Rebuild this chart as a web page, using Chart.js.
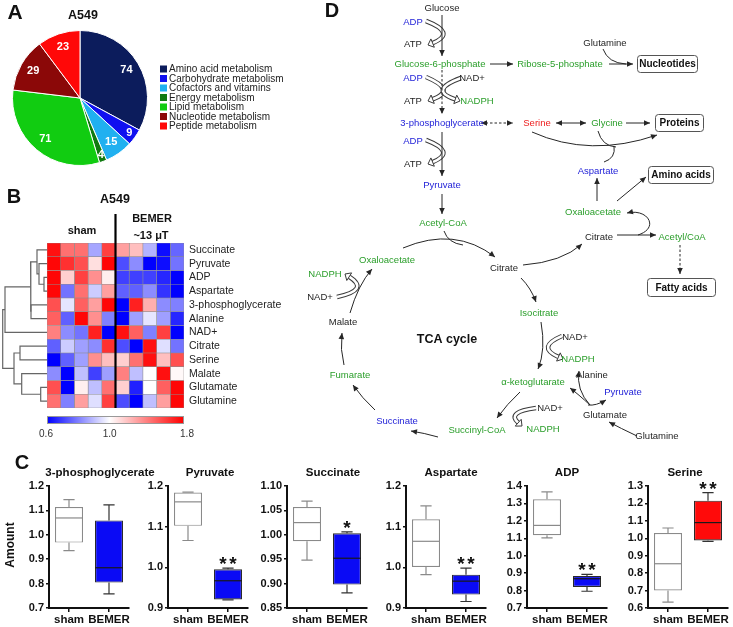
<!DOCTYPE html>
<html><head><meta charset="utf-8">
<script src="https://cdn.jsdelivr.net/npm/chart.js@4.4.1/dist/chart.umd.min.js"></script>
<style>
html,body{margin:0;padding:0;background:#fff;}
#page{position:relative;width:733px;height:627px;overflow:hidden;background:#fff;}
</style></head><body><div id="page"></div>
<script>
// ===================== DATA =====================
// Panel A
const pieLabels = ['Amino acid metabolism','Carbohydrate metabolism','Cofactors and vitamins','Energy metabolism','Lipid metabolism','Nucleotide metabolism','Peptide metabolism'];
const pieValues = [74, 9, 15, 4, 71, 29, 23];
const pieColors = ['#0c1c5c','#1010f0','#20b0f0','#107a10','#11cc11','#8b0808','#ff0808'];

// Panel B
const heatRows = ['Succinate','Pyruvate','ADP','Aspartate','3-phosphoglycerate','Alanine','NAD+','Citrate','Serine','Malate','Glutamate','Glutamine'];
const heatSham = [
  [1.75,1.45,1.45,0.86,1.6],
  [1.78,1.65,1.55,1.1,1.78],
  [1.78,1.15,1.6,1.35,1.05],
  [1.78,0.78,1.45,0.92,1.3],
  [1.55,0.96,1.5,1.3,1.78],
  [1.5,0.75,1.78,1.35,0.8],
  [1.4,0.82,0.78,1.7,0.6],
  [0.75,0.92,0.85,0.82,1.65],
  [0.6,0.75,0.85,1.35,1.2],
  [0.82,0.6,0.9,0.7,0.85],
  [1.55,0.6,1.05,0.9,1.45],
  [1.45,0.8,1.3,0.95,1.6]
];
const heatBemer = [
  [1.3,1.2,0.88,0.62,0.76],
  [0.72,0.82,0.6,0.62,0.78],
  [0.7,0.7,0.7,0.66,0.6],
  [0.75,0.75,0.82,0.68,0.6],
  [0.6,1.7,1.25,0.82,0.8],
  [0.6,0.85,0.96,0.85,0.66],
  [1.75,1.5,0.8,1.6,0.6],
  [0.72,0.6,1.75,0.95,0.78],
  [1.15,1.45,1.75,1.2,1.55],
  [1.4,0.9,1.0,1.75,1.02],
  [1.15,0.65,1.0,1.5,1.78],
  [0.72,0.6,0.9,1.3,1.78]
];
const colorbarTicks = [0.6, 1.0, 1.8];
// dendrogram linkage: [childA, childB, height]; leaves 0..11, internal nodes 12+
const dendroLinks = [
  [2,3,3],[1,12,8],[0,13,10],[4,5,16],[14,15,16.4],[16,6,42],
  [7,8,27],[10,11,6.3],[9,19,25.3],[18,20,33],[17,21,44.3]
];

// Panel C : [min, q1, median, q3, max]
const boxTitles = ['3-phosphoglycerate','Pyruvate','Succinate','Aspartate','ADP','Serine'];
const boxGroups = ['sham','BEMER'];
const shamStats = [
  [0.935,0.968,1.069,1.114,1.144],
  [1.066,1.102,1.161,1.184,1.185],
  [0.948,0.987,1.025,1.057,1.069],
  [0.982,1.001,1.064,1.118,1.151],
  [1.102,1.117,1.174,1.324,1.366],
  [0.634,0.701,0.854,1.030,1.059]
];
const bemerStats = [
  [0.758,0.804,0.865,1.059,1.123],
  [0.920,0.921,0.967,0.995,0.998],
  [0.881,0.898,0.952,1.003,1.006],
  [0.916,0.933,0.966,0.982,0.998],
  [0.796,0.821,0.868,0.884,0.893],
  [0.982,0.988,1.090,1.216,1.262]
];
const axisMin = [0.7,0.9,0.85,0.9,0.7,0.6];
const axisMax = [1.2,1.2,1.10,1.2,1.4,1.3];
const axisStep = [0.1,0.1,0.05,0.1,0.1,0.1];
const significance = ['','**','*','**','**','**'];

// ===================== SETUP =====================
const FONT = "'Liberation Sans', Arial, Helvetica, sans-serif";
Chart.defaults.font.family = FONT;
Chart.defaults.color = '#222';
Chart.defaults.animation = false;
const page = document.getElementById('page');
function mkCanvas(left, top, w, h){
  const cv = document.createElement('canvas');
  cv.width = w; cv.height = h;
  cv.style.cssText = `position:absolute;left:${left}px;top:${top}px;width:${w}px;height:${h}px`;
  page.appendChild(cv);
  return cv;
}
function txt(ctx, s, x, y, font, color, align='center', base='middle', rot=0){
  ctx.save(); ctx.font = font; ctx.fillStyle = color; ctx.textAlign = align; ctx.textBaseline = base;
  if (rot){ ctx.translate(x,y); ctx.rotate(rot); ctx.fillText(s,0,0); } else ctx.fillText(s,x,y);
  ctx.restore();
}
const noPlug = {legend:{display:false}, tooltip:{enabled:false}};

// ===================== PANEL A =====================
new Chart(mkCanvas(0,0,300,185), {
  type:'pie',
  data:{labels:pieLabels, datasets:[{data:pieValues, backgroundColor:pieColors, borderColor:'#ffffff', borderWidth:1}]},
  options:{responsive:false, layout:{padding:{left:12,top:30,right:152,bottom:19}}, plugins:noPlug},
  plugins:[{id:'pieA', afterDraw(chart){
    const ctx = chart.ctx, meta = chart.getDatasetMeta(0);
    const total = pieValues.reduce((a,b)=>a+b,0);
    meta.data.forEach((arc,i)=>{
      const p = arc.getProps(['x','y','startAngle','endAngle','outerRadius'], true);
      const mid = (p.startAngle+p.endAngle)/2;
      const f = pieValues[i]/total < 0.05 ? 0.9 : 0.8;
      txt(ctx, String(pieValues[i]), p.x+Math.cos(mid)*p.outerRadius*f, p.y+Math.sin(mid)*p.outerRadius*f, `bold 11px ${FONT}`, '#fff');
    });
    pieLabels.forEach((l,i)=>{
      const y = 69 + i*9.5;
      ctx.fillStyle = pieColors[i]; ctx.fillRect(160, y-3.5, 7, 7);
      txt(ctx, l, 169, y+0.5, `10px ${FONT}`, '#222', 'left');
    });
    txt(ctx,'A549',83,16,`bold 12.5px ${FONT}`,'#111');
    txt(ctx,'A',15,13,`bold 21px ${FONT}`,'#111');
  }}]
});

// ===================== PANEL B =====================
const cbMid = 0.457;
function heatColor(v){
  if (v < 1){ const f = Math.max(0,(v-0.6)/0.4); const c = Math.round(255*f); return `rgb(${c},${c},255)`; }
  const f = Math.min(1,(v-1)/0.8); const c = Math.round(255*(1-f)); return `rgb(255,${c},${c})`;
}
function cbPos(v){ return v < 1 ? (v-0.6)/0.4*cbMid : cbMid + (v-1)/0.8*(1-cbMid); }
const nCols = heatSham[0].length + heatBemer[0].length;
const heatDatasets = [];
for (let c = 0; c < nCols; c++){
  heatDatasets.push({
    data: heatRows.map(()=>[c, c+1]),
    backgroundColor: heatRows.map((_,r)=> heatColor(c < 5 ? heatSham[r][c] : heatBemer[r][c-5])),
    borderColor:'#8c8c8c', borderWidth:0.6, borderSkipped:false,
    barPercentage:1, categoryPercentage:1, grouped:false
  });
}
new Chart(mkCanvas(0,185,300,255), {
  type:'bar',
  data:{labels:heatRows, datasets:heatDatasets},
  options:{responsive:false, indexAxis:'y', layout:{padding:{left:47,top:58,right:0,bottom:32}}, plugins:noPlug,
    scales:{
      x:{type:'linear', min:0, max:nCols, display:false},
      y:{type:'category', position:'right', grid:{display:false, drawTicks:false}, border:{display:false},
         ticks:{font:{size:10.5}, color:'#222', padding:5, autoSkip:false}, afterFit(s){ s.width = 116; }}
    }},
  plugins:[{id:'heatB', afterDraw(chart){
    const ctx = chart.ctx, xs = chart.scales.x, ca = chart.chartArea;
    const xm = xs.getPixelForValue(heatSham[0].length);
    ctx.save(); ctx.strokeStyle='#000'; ctx.lineWidth=2.2;
    ctx.beginPath(); ctx.moveTo(xm, 29); ctx.lineTo(xm, ca.bottom); ctx.stroke(); ctx.restore();
    txt(ctx,'B',14,12,`bold 20px ${FONT}`,'#111');
    txt(ctx,'A549',115,15,`bold 12.5px ${FONT}`,'#111');
    txt(ctx,'sham',82,46,`bold 11px ${FONT}`,'#111');
    txt(ctx,'BEMER',152,34,`bold 11px ${FONT}`,'#111');
    txt(ctx,'~13 \u03BCT',151,51,`bold 11px ${FONT}`,'#111');
    // colorbar
    const x0 = xs.getPixelForValue(0), x1 = xs.getPixelForValue(nCols), y0 = ca.bottom + 8, h = 8;
    const g = ctx.createLinearGradient(x0,0,x1,0);
    colorbarTicks.forEach(v=> g.addColorStop(cbPos(v), heatColor(v)));
    ctx.fillStyle = g; ctx.fillRect(x0, y0, x1-x0, h);
    ctx.strokeStyle = '#999'; ctx.lineWidth = 1; ctx.strokeRect(x0+0.5, y0+0.5, x1-x0-1, h-1);
    colorbarTicks.forEach((v,i)=>{
      const x = x0 + cbPos(v)*(x1-x0) + (i===0?-1:(i===colorbarTicks.length-1?3:0));
      txt(ctx, v.toFixed(1), x, y0+h+10, `10px ${FONT}`, '#333');
    });
  }}]
});

// dendrogram
(function(){
  const pos = heatRows.map((_,i)=>({y:i, h:0}));
  const dsets = [];
  dendroLinks.forEach(([a,b,h])=>{
    const A = pos[a], B = pos[b];
    dsets.push({data:[{x:A.h,y:A.y},{x:h,y:A.y},{x:h,y:B.y},{x:B.h,y:B.y}], showLine:true, borderColor:'#666', borderWidth:1.2, pointRadius:0, tension:0, clip:false});
    pos.push({y:(A.y+B.y)/2, h:h});
  });
  new Chart(mkCanvas(0,185,47,255), {
    type:'scatter', data:{datasets:dsets},
    options:{responsive:false, layout:{padding:{left:0,right:0,top:58,bottom:32}}, plugins:noPlug,
      scales:{x:{type:'linear', min:0, max:47, reverse:true, display:false},
              y:{type:'linear', min:-0.5, max:heatRows.length-0.5, reverse:true, display:false}}}
  });
})();

// ===================== PANEL C =====================
const yAxisX = [49,168,287,406,527,648];
const titleShift = [11,2,6,5,0,-3];
boxTitles.forEach((title,i)=>{
  const yw = i===0 ? 49 : 40;
  const left = yAxisX[i]-yw;
  const extra = i===5 ? 0 : 24;
  const dec = axisStep[i] < 0.1 ? 2 : 1;
  const fill = i===5 ? '#ff0a0a' : '#0a0af5';
  new Chart(mkCanvas(left,450,yw+84+extra,177), {
    type:'bar',
    data:{labels:boxGroups, datasets:[{
      data:[[shamStats[i][1],shamStats[i][3]],[bemerStats[i][1],bemerStats[i][3]]],
      backgroundColor:['#ffffff',fill], borderColor:['#8a8a8a','#2a2a2a'], borderWidth:1.2, borderSkipped:false,
      barPercentage:0.7, categoryPercentage:1
    }]},
    options:{responsive:false, layout:{padding:{left:0,right:4+extra,top:36,bottom:0}}, plugins:noPlug,
      scales:{
        x:{grid:{offset:false, drawOnChartArea:false, drawTicks:true, tickLength:4, color:'#111', lineWidth:1.5},
           border:{display:true, color:'#111', width:2},
           ticks:{font:{size:11.5, weight:'bold'}, color:'#111', padding:1, maxRotation:0, minRotation:0, autoSkip:false},
           afterFit(s){ s.height = 19; }},
        y:{min:axisMin[i], max:axisMax[i],
           ticks:{stepSize:axisStep[i], callback:v=>Number(v).toFixed(dec), font:{size:11, weight:'bold'}, color:'#111', padding:2},
           grid:{drawOnChartArea:false, drawTicks:true, tickLength:3, color:'#111', lineWidth:1.5},
           border:{display:true, color:'#111', width:2}, afterFit(s){ s.width = yw; }}
      }},
    plugins:[{id:'boxC'+i, afterDatasetsDraw(chart){
      const ctx = chart.ctx, ys = chart.scales.y, ca = chart.chartArea;
      const meta = chart.getDatasetMeta(0);
      [shamStats[i], bemerStats[i]].forEach((s,j)=>{
        const el = meta.data[j]; const x = el.x, w = el.width;
        const col = j===0 ? '#8a8a8a' : '#333';
        ctx.save(); ctx.strokeStyle = col; ctx.lineWidth = 1.2;
        ctx.beginPath();
        ctx.moveTo(x, ys.getPixelForValue(s[3])); ctx.lineTo(x, ys.getPixelForValue(s[4]));
        ctx.moveTo(x, ys.getPixelForValue(s[1])); ctx.lineTo(x, ys.getPixelForValue(s[0]));
        ctx.moveTo(x-w*0.2, ys.getPixelForValue(s[4])); ctx.lineTo(x+w*0.2, ys.getPixelForValue(s[4]));
        ctx.moveTo(x-w*0.2, ys.getPixelForValue(s[0])); ctx.lineTo(x+w*0.2, ys.getPixelForValue(s[0]));
        ctx.stroke();
        ctx.strokeStyle = j===0 ? '#8a8a8a' : '#1a1a1a';
        ctx.beginPath(); ctx.moveTo(x-w/2, ys.getPixelForValue(s[2])); ctx.lineTo(x+w/2, ys.getPixelForValue(s[2])); ctx.stroke();
        ctx.restore();
      });
      const sig = significance[i];
      if (sig){
        const el = meta.data[1]; const yb = ys.getPixelForValue(bemerStats[i][4]) + 2;
        const n = sig.length;
        for (let k=0;k<n;k++) txt(ctx,'*', el.x + (k-(n-1)/2)*10, yb, `bold 19px ${FONT}`, '#111', 'center', 'alphabetic');
      }
      txt(ctx, title, (ca.left+ca.right)/2 + titleShift[i], 23, `bold 11.5px ${FONT}`, '#111');
      if (i===0){
        txt(ctx,'C',22,13,`bold 20px ${FONT}`,'#111');
        txt(ctx,'Amount',11,95,`bold 12px ${FONT}`,'#111','center','middle',-Math.PI/2);
      }
    }}]
  });
});

// ===================== PANEL D (pathway diagram) =====================
const diagram = {
  nodes: [
    ['Glucose',442,8,'k'],['ADP',413,22,'b'],['ATP',413,44,'k'],
    ['Glucose-6-phosphate',440,64,'g'],['Ribose-5-phosphate',560,64,'g'],['Glutamine',605,43,'k'],
    ['ADP',413,78,'b'],['NAD+',472,78,'k'],['ATP',413,101,'k'],['NADPH',477,101,'g'],
    ['3-phosphoglycerate',442,123,'b'],['Serine',537,123,'r'],['Glycine',607,123,'g'],
    ['Aspartate',598,171,'b'],['ADP',413,141,'b'],['ATP',413,164,'k'],['Pyruvate',442,185,'b'],
    ['Oxaloacetate',593,212,'g'],['Acetyl-CoA',443,223,'g'],['Citrate',599,237,'k'],['Acetyl/CoA',682,237,'g'],
    ['Oxaloacetate',387,260,'g'],['Citrate',504,268,'k'],['NADPH',325,274,'g'],['NAD+',320,297,'k'],
    ['Isocitrate',539,313,'g'],['Malate',343,322,'k'],['NAD+',575,337,'k'],['NADPH',578,359,'g'],
    ['Fumarate',350,375,'g'],['Alanine',592,375,'k'],['\u03B1-ketoglutarate',533,382,'g'],['Pyruvate',623,392,'b'],
    ['NAD+',550,408,'k'],['Glutamate',605,415,'k'],['Succinate',397,421,'b'],['Succinyl-CoA',477,430,'g'],
    ['NADPH',543,429,'g'],['Glutamine',657,436,'k']
  ],
  boxes: [['Nucleotides',637,55,697,72],['Proteins',655,114,703,131],['Amino acids',648,166,713,183],['Fatty acids',647,278,715,296]],
  lines: [
    [442,15,442,56,'e',0],[490,64,513,64,'e',0],[609,64,633,64,'e',0],[442,70,442,114,'e',1],
    [481,123,513,123,'b',1],[556,123,586,123,'b',0],[626,123,650,123,'e',0],[442,132,442,176,'e',0],
    [442,194,442,214,'e',0],[617,235,656,235,'e',0],[597,201,597,178,'e',0],[617,201,646,177,'e',0],
    [680,245,680,274,'e',1]
  ],
  curves: [
    [603,49,608,63,626,64,''],[532,132,590,158,657,135,'e'],[598,131,602,146,616,147,''],
    [604,162,616,158,614,146,''],[444,231,448,243,463,245,''],[403,248,455,226,495,257,'e'],
    [523,265,562,262,582,244,'e'],[521,278,531,288,536,302,'e'],[541,322,546,350,538,369,'e'],
    [520,392,507,404,497,418,'e'],[438,437,424,433,411,431,'e'],[375,410,362,398,353,385,'e'],
    [344,365,340,350,342,333,'e'],[350,313,358,285,372,269,'e'],[637,436,620,428,609,422,'e'],
    [590,405,578,394,570,388,'e'],[590,405,576,390,579,371,'e'],[588,405,596,406,606,400,'e']
  ],
  beziers: [[638,235,660,228,648,208,627,213]],
  hollows: [
    [426,21,457,33,428,45],[426,77,457,90,428,101],[461,78,428,90,460,101],[426,140,457,152,428,164],
    [337,297,370,290,345,274],[562,336,536,347,563,359],[536,408,506,412,522,426]
  ]
};
const dColors = {k:'#1e1e1e', g:'#2a9e2a', b:'#2424d8', r:'#ee2020'};
new Chart(mkCanvas(300,0,433,450), {
  type:'scatter', data:{datasets:[]},
  options:{responsive:false, layout:{padding:0}, plugins:noPlug,
    scales:{x:{type:'linear', min:300, max:733, display:false}, y:{type:'linear', min:0, max:450, reverse:true, display:false}}},
  plugins:[{id:'pathD', afterDraw(chart){
    const ctx = chart.ctx, xs = chart.scales.x, ys = chart.scales.y;
    const P = (x,y)=>[xs.getPixelForValue(x), ys.getPixelForValue(y)];
    const dark = '#262626';
    function head(tip, from, len=6, hw=2.8){
      const dx=tip[0]-from[0], dy=tip[1]-from[1], L=Math.hypot(dx,dy)||1, ux=dx/L, uy=dy/L;
      ctx.beginPath(); ctx.moveTo(tip[0],tip[1]);
      ctx.lineTo(tip[0]-ux*len-uy*hw, tip[1]-uy*len+ux*hw);
      ctx.lineTo(tip[0]-ux*len+uy*hw, tip[1]-uy*len-ux*hw);
      ctx.closePath(); ctx.fillStyle = dark; ctx.fill();
    }
    ctx.save();
    // hollow (open) arrows
    diagram.hollows.forEach(([x0,y0,cx,cy,x1,y1])=>{
      const p0=P(x0,y0), c=P(cx,cy), p1=P(x1,y1);
      const dx=p1[0]-c[0], dy=p1[1]-c[1], L=Math.hypot(dx,dy), ux=dx/L, uy=dy/L;
      const len=5, hw=4.5, base=[p1[0]-ux*len, p1[1]-uy*len];
      ctx.lineCap='butt';
      ctx.beginPath(); ctx.moveTo(p0[0],p0[1]); ctx.quadraticCurveTo(c[0],c[1],base[0],base[1]);
      ctx.lineWidth=4.6; ctx.strokeStyle='#3a3a3a'; ctx.stroke();
      ctx.lineWidth=2.6; ctx.strokeStyle='#fff'; ctx.stroke();
      ctx.beginPath(); ctx.moveTo(p1[0],p1[1]);
      ctx.lineTo(base[0]-uy*hw, base[1]+ux*hw); ctx.lineTo(base[0]+uy*hw, base[1]-ux*hw); ctx.closePath();
      ctx.fillStyle='#fff'; ctx.fill(); ctx.lineWidth=1; ctx.strokeStyle='#3a3a3a'; ctx.stroke();
    });
    ctx.strokeStyle = dark; ctx.lineWidth = 1;
    diagram.lines.forEach(([x1,y1,x2,y2,h,d])=>{
      const a=P(x1,y1), b=P(x2,y2);
      ctx.setLineDash(d?[2.5,2]:[]); ctx.beginPath(); ctx.moveTo(a[0],a[1]); ctx.lineTo(b[0],b[1]); ctx.stroke(); ctx.setLineDash([]);
      if (h) head(b,a); if (h==='b') head(a,b);
    });
    diagram.curves.forEach(([x0,y0,cx,cy,x1,y1,h])=>{
      const a=P(x0,y0), c=P(cx,cy), b=P(x1,y1);
      ctx.beginPath(); ctx.moveTo(a[0],a[1]); ctx.quadraticCurveTo(c[0],c[1],b[0],b[1]); ctx.stroke();
      if (h) head(b,c);
    });
    diagram.beziers.forEach(([x0,y0,c1x,c1y,c2x,c2y,x1,y1])=>{
      const a=P(x0,y0), c1=P(c1x,c1y), c2=P(c2x,c2y), b=P(x1,y1);
      ctx.beginPath(); ctx.moveTo(a[0],a[1]); ctx.bezierCurveTo(c1[0],c1[1],c2[0],c2[1],b[0],b[1]); ctx.stroke();
      head(b,c2);
    });
    diagram.boxes.forEach(([t,x0,y0,x1,y1])=>{
      const a=P(x0,y0), b=P(x1,y1);
      ctx.beginPath(); ctx.roundRect(a[0]+0.5,a[1]+0.5,b[0]-a[0],b[1]-a[1],3);
      ctx.fillStyle='#fff'; ctx.fill(); ctx.strokeStyle='#555'; ctx.lineWidth=1; ctx.stroke();
      txt(ctx, t, (a[0]+b[0])/2+0.5, (a[1]+b[1])/2+1, `bold 10px ${FONT}`, '#111');
    });
    diagram.nodes.forEach(([t,x,y,c])=>{
      const p=P(x,y);
      txt(ctx, t, p[0], p[1], `9.5px ${FONT}`, dColors[c]);
    });
    const tp = P(447,340); txt(ctx,'TCA cycle',tp[0],tp[1],`bold 12.5px ${FONT}`,'#111');
    const dp = P(332,11); txt(ctx,'D',dp[0],dp[1],`bold 20px ${FONT}`,'#111');
    ctx.restore();
  }}]
});
</script>
</body></html>
